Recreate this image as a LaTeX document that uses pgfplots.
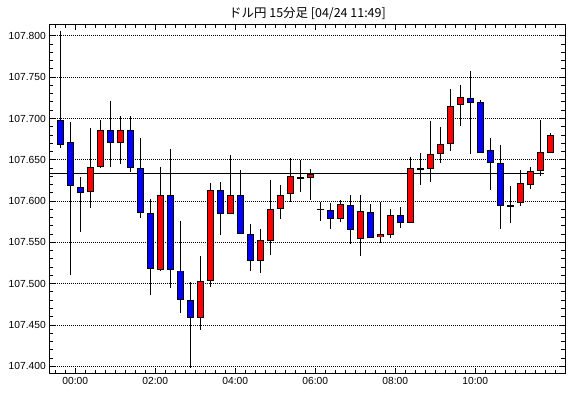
\documentclass[border=0pt]{standalone}
\usepackage{fontspec}
\setmainfont{Liberation Sans}
\newfontfamily\cjk{Noto Sans CJK JP}
\usepackage{pgfplots}
\usepackage{pgfplotstable}
\pgfplotsset{compat=1.18}
\pgfplotstableread{
i open high low close
0 107.699 107.806 107.665 107.669
1 107.672 107.697 107.511 107.618
2 107.617 107.630 107.563 107.610
3 107.611 107.689 107.592 107.642
4 107.642 107.699 107.640 107.687
5 107.687 107.722 107.642 107.671
6 107.671 107.703 107.645 107.686
7 107.686 107.703 107.636 107.641
8 107.641 107.676 107.580 107.586
9 107.586 107.603 107.487 107.518
10 107.517 107.641 107.515 107.609
11 107.609 107.665 107.496 107.517
12 107.517 107.575 107.464 107.481
13 107.481 107.501 107.398 107.459
14 107.459 107.534 107.445 107.504
15 107.504 107.623 107.498 107.614
16 107.614 107.624 107.560 107.585
17 107.585 107.656 107.585 107.608
18 107.608 107.638 107.561 107.561
19 107.561 107.573 107.516 107.528
20 107.528 107.567 107.514 107.553
21 107.553 107.626 107.536 107.591
22 107.592 107.620 107.578 107.608
23 107.608 107.653 107.600 107.630
24 107.630 107.650 107.611 107.628
25 107.628 107.640 107.603 107.633
26 107.590 107.599 107.576 107.590
27 107.590 107.599 107.568 107.579
28 107.579 107.603 107.576 107.597
29 107.597 107.607 107.548 107.567
30 107.555 107.607 107.533 107.588
31 107.588 107.596 107.556 107.556
32 107.556 107.599 107.550 107.560
33 107.560 107.591 107.555 107.584
34 107.584 107.595 107.569 107.574
35 107.574 107.653 107.573 107.640
36 107.640 107.658 107.620 107.639
37 107.639 107.697 107.623 107.658
38 107.658 107.690 107.647 107.670
39 107.670 107.736 107.661 107.716
40 107.716 107.742 107.693 107.726
41 107.726 107.758 107.657 107.720
42 107.720 107.723 107.659 107.659
43 107.662 107.676 107.614 107.647
44 107.647 107.669 107.568 107.595
45 107.595 107.619 107.575 107.595
46 107.599 107.638 107.595 107.623
47 107.620 107.642 107.616 107.636
48 107.636 107.699 107.631 107.660
49 107.660 107.683 107.659 107.681
}\candles
\begin{document}
\begin{tikzpicture}
\useasboundingbox (0,0) rectangle (570bp,398bp);
\fill[white] (0,0) rectangle (570bp,398bp);
\node[font=\cjk\fontsize{12.5}{14}\selectfont, inner sep=0pt] at (307.5bp,384bp) {ドル円 15分足 [04/24 11:49]};
\begin{axis}[
  at={(49.3bp,24bp)}, anchor=south west,
  scale only axis, width=515.7bp, height=349.5bp,
  xmin=-1.1, xmax=50.47, ymin=107.3907, ymax=107.8138,
  axis line style={black, line width=1bp},
  tick align=inside, tick pos=both,
  xticklabel pos=lower, yticklabel pos=left,
  major tick length=6bp, minor tick length=4bp,
  tick style={black, line width=1bp},
  xtick={1.5,9.5,17.5,25.5,33.5,41.5},
  xticklabels={00:00,02:00,04:00,06:00,08:00,10:00},
  minor xtick={-0.5,0.5,...,49.5},
  ytick={107.4,107.45,107.5,107.55,107.6,107.65,107.7,107.75,107.8},
  minor y tick num=4,
  tick label style={font=\fontsize{10.3}{12}\selectfont},
  yticklabel style={/pgf/number format/.cd, fixed, fixed zerofill, precision=3, 1000 sep={}, assume math mode=true},
  ymajorgrids,
  major grid style={black, line width=1bp, dash pattern=on 1bp off 1bp},
]
% wicks
\addplot[draw=none, mark=none, forget plot,
  error bars/.cd, y dir=both, y explicit, error mark=none,
  error bar style={draw=black, solid, line width=1bp}]
  table[x=i, y expr={(\thisrow{high}+\thisrow{low})/2}, y error expr={(\thisrow{high}-\thisrow{low})/2}] {\candles};
% reference line
\addplot[black, line width=1bp, forget plot] coordinates {(-1.1,107.634) (48.4,107.634)};
% body outlines
\addplot[draw=none, mark=none, forget plot,
  error bars/.cd, y dir=both, y explicit, error mark=none,
  error bar style={draw=black, solid, line width=7bp}]
  table[x=i, y expr={(\thisrow{open}+\thisrow{close})/2}, y error expr={max(abs(\thisrow{close}-\thisrow{open})/2,0.0008)}] {\candles};
% rising bodies
\addplot[draw=none, mark=none, forget plot,
  error bars/.cd, y dir=both, y explicit, error mark=none,
  error bar style={draw=red, solid, line width=5bp}]
  table[x=i, y expr={(\thisrow{open}+\thisrow{close})/2}, y error expr={max((\thisrow{close}-\thisrow{open})/2-0.00121,0)}] {\candles};
% falling bodies
\addplot[draw=none, mark=none, forget plot,
  error bars/.cd, y dir=both, y explicit, error mark=none,
  error bar style={draw=blue, solid, line width=5bp}]
  table[x=i, y expr={(\thisrow{open}+\thisrow{close})/2}, y error expr={max((\thisrow{open}-\thisrow{close})/2-0.00121,0)}] {\candles};
\end{axis}
\end{tikzpicture}
\end{document}
